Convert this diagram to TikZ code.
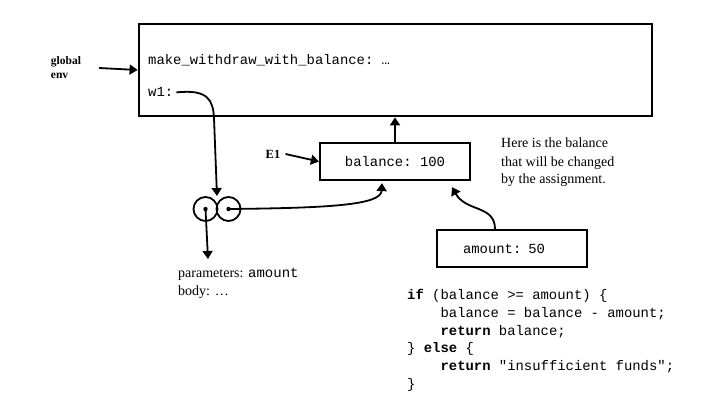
\documentclass[tikz,border=0pt]{standalone}
\usepackage{fontspec}
\setmainfont{Liberation Serif}
\setmonofont{Liberation Mono}
\usetikzlibrary{arrows.meta}
\begin{document}
\begin{tikzpicture}[x=1pt,y=-1pt,
  frame/.style={draw, line width=2.8pt, inner sep=0pt},
  vbox/.style={draw, line width=2.2pt, inner sep=0pt},
  ring/.style={circle, draw, line width=1.8pt, minimum size=24pt, inner sep=0pt},
  conn/.style={line width=1.8pt, -{Triangle[length=8pt,width=10pt]}},
  mono/.style={font=\fontsize{13.9}{17.8}\selectfont\ttfamily, inner sep=0pt},
  serif/.style={font=\fontsize{14}{17.5}\selectfont, inner sep=0pt},
  lbl/.style={font=\fontsize{11.5}{14}\selectfont\bfseries, inner sep=0pt, align=left}]
\useasboundingbox (0,0) rectangle (720,409);
% global frame
\node[frame, minimum width=513pt, minimum height=92pt] (genv) at (395.5,70) {};
\node[mono, anchor=base west] (mk) at (148,65) {make\_withdraw\_with\_balance: …};
\node[mono, anchor=base west] (w1) at (148,97) {w1:};
\node[lbl] (glob) at (66,68) {global\\env};
\draw[conn] ([xshift=18pt]glob.east) -- (genv.west);
% E1 frame
\node[vbox, minimum width=150pt, minimum height=37pt, mono] (bal) at (395,161.5) {balance: 100};
\node[lbl, font=\fontsize{12.5}{14}\selectfont\bfseries] (E1) at (273,154) {E1};
\draw[conn] ([xshift=5pt]E1.east) -- (bal.west);
\draw[conn] (bal.north) -- (bal.north |- genv.south);
% note
\node[serif, anchor=base west] (h1) at (501,148) {Here is the balance};
\node[serif, anchor=base west] (h2) at (501,166) {that will be changed};
\node[serif, anchor=base west] (h3) at (501,183.5) {by the assignment.};
% function object
\node[ring] (cl) at (205.5,209) {};
\node[ring] (cr) at (228.5,209) {};
\fill (cl.center) circle (2.2pt);
\fill (cr.center) circle (2.2pt);
\coordinate (join) at (217,196);
\draw[conn] ([xshift=3pt]w1.east) .. controls (208,89) and (213,100) .. (214,118) -- (join);
\coordinate (pend) at (208,259);
\draw[conn] (cl.center) -- (pend);
\draw[conn] (cr.center) .. controls (330,208) and (381,205) .. ([shift={(-13,2)}]bal.south);
\node[serif, anchor=base west] (par) at (178,277) {parameters: \texttt{amount}};
\node[serif, anchor=base west] (body) at (178,295) {body: …};
% amount frame
\node[vbox, minimum width=150pt, minimum height=37pt, mono, text width=98pt, inner xsep=26pt, align=left] (amt) at (512,248.5) {amount: 50};
\draw[conn] ([xshift=-17pt]amt.north) .. controls (495,205) and (466,212) .. ([shift={(57,6)}]bal.south);
% code
\node[mono, anchor=base west] (c1) at (407,299) {\textbf{if} (balance >= amount) \{};
\node[mono, anchor=base west] (c2) at (407,317) {\phantom{xxxx}balance = balance - amount;};
\node[mono, anchor=base west] (c3) at (407,335) {\phantom{xxxx}\textbf{return} balance;};
\node[mono, anchor=base west] (c4) at (407,352.5) {\} \textbf{else} \{};
\node[mono, anchor=base west] (c5) at (407,370) {\phantom{xxxx}\textbf{return} "insufficient funds";};
\node[mono, anchor=base west] (c6) at (407,388) {\}};
\end{tikzpicture}
\end{document}
